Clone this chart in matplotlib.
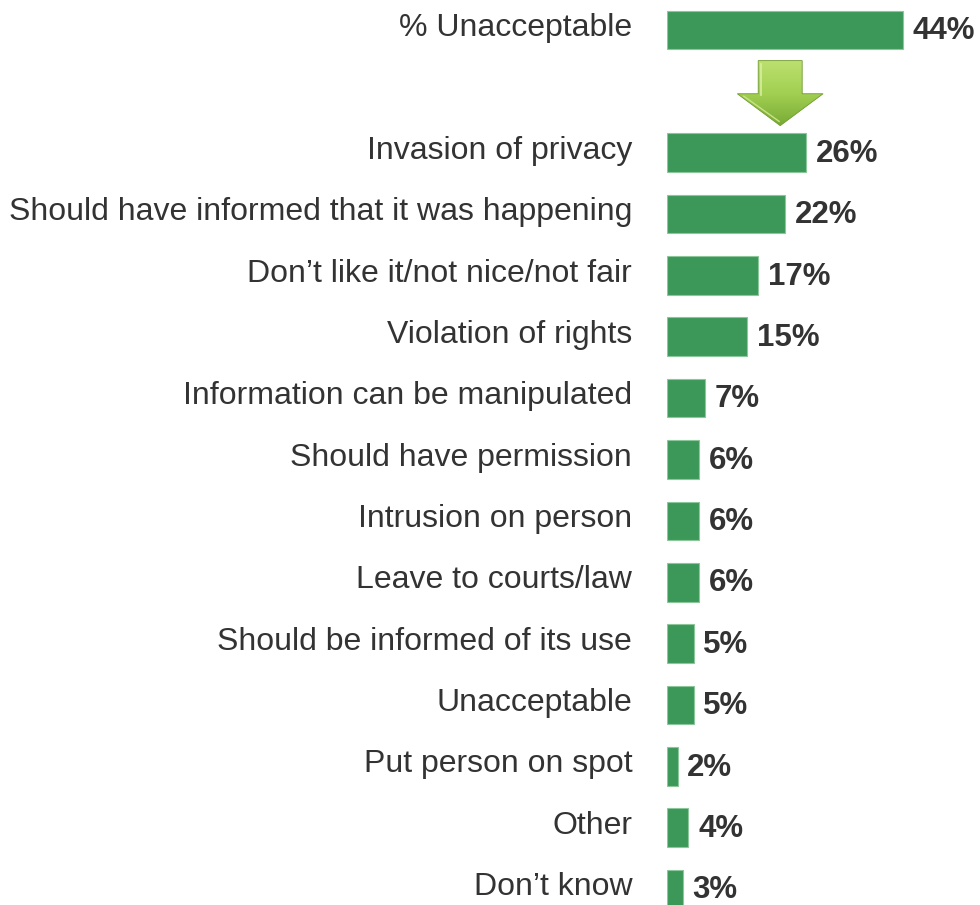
import numpy as np
import matplotlib.pyplot as plt
from matplotlib.patches import Polygon
from matplotlib.colors import LinearSegmentedColormap

plt.rcParams['font.family'] = ['Liberation Sans', 'DejaVu Sans']

# headline figure and the reasons behind it
headline_label = '% Unacceptable'
headline_value = 44

reasons = ['Invasion of privacy',
           'Should have informed that it was happening',
           'Don\u2019t like it/not nice/not fair',
           'Violation of rights',
           'Information can be manipulated',
           'Should have permission',
           'Intrusion on person',
           'Leave to courts/law',
           'Should be informed of its use',
           'Unacceptable',
           'Put person on spot',
           'Other',
           'Don\u2019t know']
reason_values = [26, 22, 17, 15, 7, 6, 6, 6, 5, 5, 2, 4, 3]

bar_color = '#3c9858'
text_color = '#333333'

labels = [headline_label] + reasons
values = [headline_value] + reason_values
# headline on row 0, one empty row for the arrow, then the reasons
rows = [0] + list(range(2, 2 + len(reasons)))

fig = plt.figure(figsize=(9.8, 9.05), dpi=100)
ax = fig.add_axes([667 / 980, 0, 1 - 667 / 980, 1])

ax.barh(rows, values, height=0.63, color=bar_color,
        edgecolor='#8cc79b', linewidth=0.8)

for r, v, lab in zip(rows, values, labels):
    ax.text(v + 1.8, r + 0.02, f'{v}%', va='center', ha='left',
            fontsize=22.5, fontweight='bold', color=text_color)
    ax.text(-6.5, r - 0.03, lab, va='center', ha='right',
            fontsize=23, color=text_color, clip_on=False)

# gradient arrow pointing from the headline down to the reasons
cx = headline_value * 0.48
arrow = [(cx - 4.1, 0.50), (cx + 4.1, 0.50), (cx + 4.1, 1.04),
         (cx + 8.0, 1.04), (cx, 1.56), (cx - 8.0, 1.04), (cx - 4.1, 1.04)]
poly = Polygon(arrow, closed=True, facecolor='none', edgecolor='#6f9a30',
               linewidth=0.6, zorder=4)
ax.add_patch(poly)
grad = np.linspace(0, 1, 256).reshape(-1, 1)
cmap = LinearSegmentedColormap.from_list('arr', ['#bde070', '#a2d052', '#78aa34'])
img = ax.imshow(grad, cmap=cmap, aspect='auto',
                extent=(cx - 8.0, cx + 8.0, 1.56, 0.50), zorder=3)
img.set_clip_path(poly)
# light bevel on the arrow's left faces
ax.plot([cx - 3.5, cx - 3.5], [0.55, 1.06],
        color='#d8eea0', lw=1.2, zorder=4)
ax.plot([cx - 6.8, cx - 0.2], [1.08, 1.49], color='#c8e386', lw=1.0, zorder=4)

ax.set_xlim(0, 313 / 5.36)
ax.set_ylim((905 - 28) / 61.5, -30 / 61.5)
ax.axis('off')

fig.savefig('out.png', dpi=100)
